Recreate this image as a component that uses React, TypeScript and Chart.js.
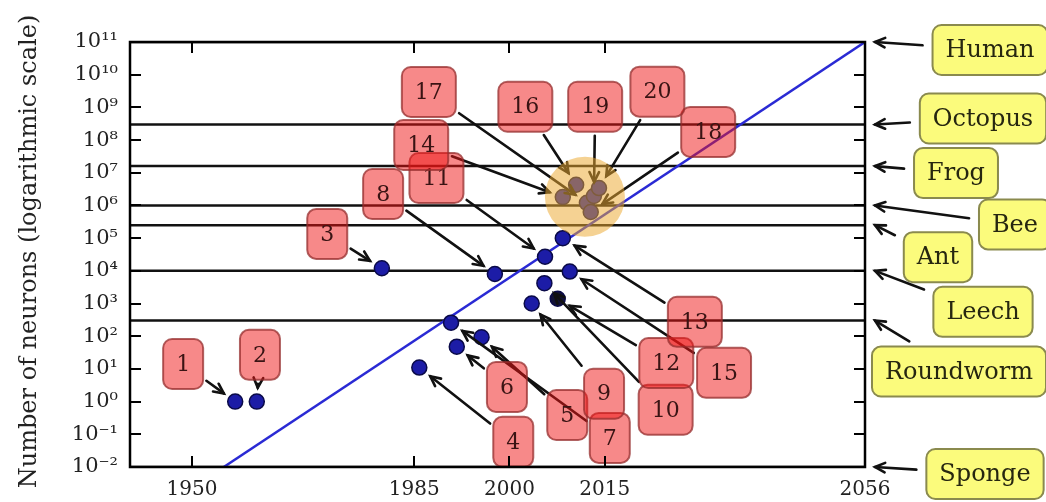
import React, { useEffect, useRef } from 'react';
import { Chart, registerables } from 'chart.js';

Chart.register(...registerables);

// ---------- data ----------
const modelLabels = ['1', '2', '3', '4', '5', '6', '7', '8', '9', '10', '11', '12', '13', '14', '15', '16', '17', '18', '19', '20'];
const modelYears = [1956.8, 1960.2, 1979.9, 1985.8, 1995.6, 1991.7, 1990.8, 1997.7, 2003.5, 2005.5, 2005.6, 2007.6, 2008.4, 2008.4, 2009.5, 2010.5, 2012.2, 2012.8, 2013.3, 2014.1];
const modelNeurons = [1, 1, 1.2e4, 11, 93, 48, 260, 8e3, 1e3, 4.2e3, 2.7e4, 1.4e3, 1e5, 1.8e6, 9.5e3, 4.3e6, 1.2e6, 6.3e5, 1.95e6, 3.4e6];
// annotation text positions (data coordinates: year, log10 of neurons)
const labelYears = [1948.6, 1960.7, 1971.3, 2000.6, 2009.1, 1999.6, 2015.8, 1980.1, 2014.9, 2024.6, 1988.5, 2024.7, 2029.2, 1986.1, 2033.8, 2002.5, 1987.3, 2031.3, 2013.5, 2023.3];
const labelExponents = [1.15, 1.43, 5.13, -1.23, -0.41, 0.45, -1.11, 6.35, 0.24, -0.25, 6.84, 1.18, 2.44, 7.85, 0.88, 9.02, 9.47, 8.25, 9.02, 9.48];
const highlightedModels = ['14', '16', '17', '18', '19', '20'];
const darkModel = '12';

const animalNames = ['Human', 'Octopus', 'Frog', 'Bee', 'Ant', 'Leech', 'Roundworm', 'Sponge'];
const animalNeurons = [1e11, 3e8, 1.6e7, 1e6, 2.5e5, 1e4, 302, 1e-2];

const trendYears = [1955, 2056];
const trendNeurons = [1e-2, 1e11];

const xTicks = [1950, 1985, 2000, 2015, 2056];
const yTickExponents = [-2, -1, 0, 1, 2, 3, 4, 5, 6, 7, 8, 9, 10, 11];
const yAxisTitle = 'Number of neurons (logarithmic scale)';

// ---------- layout / style (not data) ----------
const X_MIN = 1940.23;
const X_MAX = 2056;
const animalLabelDx = [125, 118, 91, 150, 73, 118, 94, 120];
const animalLabelDy = [8, -6, 7, 19, 32, 41, 51, 7];
const SERIF = '"DejaVu Serif", serif';

const SUP: Record<string, string> = { '-': '⁻', '0': '⁰', '1': '¹', '2': '²', '3': '³', '4': '⁴', '5': '⁵', '6': '⁶', '7': '⁷', '8': '⁸', '9': '⁹' };
const supText = (n: number) => String(n).split('').map((c) => SUP[c] || c).join('');

function roundRectPath(ctx: CanvasRenderingContext2D, x: number, y: number, w: number, h: number, r: number) {
  ctx.beginPath();
  ctx.moveTo(x + r, y);
  ctx.lineTo(x + w - r, y);
  ctx.arcTo(x + w, y, x + w, y + r, r);
  ctx.lineTo(x + w, y + h - r);
  ctx.arcTo(x + w, y + h, x + w - r, y + h, r);
  ctx.lineTo(x + r, y + h);
  ctx.arcTo(x, y + h, x, y + h - r, r);
  ctx.lineTo(x, y + r);
  ctx.arcTo(x, y, x + r, y, r);
  ctx.closePath();
}

type Box = { cx: number; cy: number; w: number; h: number; t: string };

function drawArrow(ctx: CanvasRenderingContext2D, b: Box, tx: number, ty: number, shrinkA: number, shrinkB: number) {
  const dx = tx - b.cx;
  const dy = ty - b.cy;
  const len = Math.hypot(dx, dy);
  if (len < 1) return;
  const ux = dx / len;
  const uy = dy / len;
  const tEdge = Math.min(dx !== 0 ? b.w / 2 / Math.abs(dx) : Infinity, dy !== 0 ? b.h / 2 / Math.abs(dy) : Infinity);
  const s = tEdge * len + shrinkA;
  const e = len - shrinkB;
  if (e <= s) return;
  const sx = b.cx + ux * s;
  const sy = b.cy + uy * s;
  const ex = b.cx + ux * e;
  const ey = b.cy + uy * e;
  ctx.strokeStyle = '#111';
  ctx.lineWidth = 2.6;
  ctx.lineCap = 'round';
  ctx.beginPath();
  ctx.moveTo(sx, sy);
  ctx.lineTo(ex, ey);
  ctx.stroke();
  const ang = Math.atan2(uy, ux);
  const hl = 11;
  const ha = 0.45;
  ctx.beginPath();
  ctx.moveTo(ex - hl * Math.cos(ang - ha), ey - hl * Math.sin(ang - ha));
  ctx.lineTo(ex, ey);
  ctx.lineTo(ex - hl * Math.cos(ang + ha), ey - hl * Math.sin(ang + ha));
  ctx.stroke();
}

function drawBox(ctx: CanvasRenderingContext2D, b: Box, fill: string, stroke: string, textColor: string, font: string) {
  roundRectPath(ctx, b.cx - b.w / 2, b.cy - b.h / 2, b.w, b.h, 9);
  ctx.fillStyle = fill;
  ctx.fill();
  ctx.strokeStyle = stroke;
  ctx.lineWidth = 2;
  ctx.stroke();
  ctx.fillStyle = textColor;
  ctx.font = font;
  ctx.textAlign = 'center';
  ctx.textBaseline = 'middle';
  ctx.fillText(b.t, b.cx, b.cy + 1);
}

const overlayPlugin = {
  id: 'overlay',
  afterDatasetsDraw(chart: any) {
    const { ctx, scales } = chart;
    const x = scales.x;
    const y = scales.y;
    ctx.save();
    const numFont = `22px ${SERIF}`;
    ctx.font = numFont;
    const boxes: Box[] = modelLabels.map((t, i) => ({
      cx: x.getPixelForValue(labelYears[i]),
      cy: y.getPixelForValue(Math.pow(10, labelExponents[i])),
      w: ctx.measureText(t).width + 26,
      h: 50,
      t,
    }));
    boxes.forEach((b, i) => {
      drawArrow(ctx, b, x.getPixelForValue(modelYears[i]), y.getPixelForValue(modelNeurons[i]), 4, 14);
    });
    // highlight circle around the most recent large networks
    let hx = 0;
    let hy = 0;
    highlightedModels.forEach((m) => {
      const i = modelLabels.indexOf(m);
      hx += x.getPixelForValue(modelYears[i]);
      hy += y.getPixelForValue(modelNeurons[i]);
    });
    hx /= highlightedModels.length;
    hy /= highlightedModels.length;
    ctx.beginPath();
    ctx.arc(hx, hy, 40, 0, Math.PI * 2);
    ctx.fillStyle = 'rgba(235,168,48,0.52)';
    ctx.fill();
    boxes.forEach((b) => drawBox(ctx, b, 'rgba(240,20,20,0.5)', 'rgba(150,45,45,0.75)', '#3a1414', numFont));
    ctx.restore();
  },
  afterDraw(chart: any) {
    const { ctx, chartArea, scales } = chart;
    const x = scales.x;
    const y = scales.y;
    const { left, right, top, bottom } = chartArea;
    ctx.save();
    // inward ticks
    ctx.strokeStyle = '#000';
    ctx.lineWidth = 2;
    ctx.lineCap = 'butt';
    ctx.beginPath();
    yTickExponents.forEach((e) => {
      const py = Math.round(y.getPixelForValue(Math.pow(10, e)));
      ctx.moveTo(left, py);
      ctx.lineTo(left + 11, py);
      ctx.moveTo(right, py);
      ctx.lineTo(right - 11, py);
    });
    xTicks.forEach((v) => {
      const px = Math.round(x.getPixelForValue(v));
      ctx.moveTo(px, top);
      ctx.lineTo(px, top + 11);
      ctx.moveTo(px, bottom);
      ctx.lineTo(px, bottom - 11);
    });
    ctx.stroke();
    // frame
    ctx.lineWidth = 2.5;
    ctx.strokeRect(left, top, right - left, bottom - top);
    // y axis title
    ctx.save();
    ctx.translate(30, (top + bottom) / 2 - 3);
    ctx.rotate(-Math.PI / 2);
    ctx.font = `24px ${SERIF}`;
    ctx.fillStyle = '#222';
    ctx.textAlign = 'center';
    ctx.textBaseline = 'middle';
    ctx.fillText(yAxisTitle, 0, 0);
    ctx.restore();
    // animal labels
    const aFont = `24px ${SERIF}`;
    ctx.font = aFont;
    animalNames.forEach((name, i) => {
      const py = y.getPixelForValue(animalNeurons[i]);
      const b: Box = {
        cx: right + animalLabelDx[i],
        cy: py + animalLabelDy[i],
        w: ctx.measureText(name).width + 26,
        h: 50,
        t: name,
      };
      drawArrow(ctx, b, right + 10, py, 10, 0);
      drawBox(ctx, b, '#fbfb7c', '#8a8a4e', '#262610', aFont);
      ctx.font = aFont;
    });
    ctx.restore();
  },
};

export default function App() {
  const ref = useRef<HTMLCanvasElement | null>(null);
  useEffect(() => {
    if (!ref.current) return;
    const dotColors = modelLabels.map((m) => (m === darkModel ? '#121236' : '#1c1ca6'));
    const datasets: any[] = [
      {
        type: 'scatter',
        label: 'networks',
        data: modelYears.map((yr, i) => ({ x: yr, y: modelNeurons[i] })),
        pointRadius: 7.5,
        pointBackgroundColor: dotColors,
        pointBorderColor: '#0a0a48',
        pointBorderWidth: 1.5,
        showLine: false,
      },
      {
        type: 'line',
        label: 'trend',
        data: trendYears.map((yr, i) => ({ x: yr, y: trendNeurons[i] })),
        borderColor: '#2a2ad4',
        borderWidth: 2.5,
        pointRadius: 0,
      },
      ...animalNames.map((name, i) => ({
        type: 'line',
        label: name,
        data: [
          { x: X_MIN, y: animalNeurons[i] },
          { x: X_MAX, y: animalNeurons[i] },
        ],
        borderColor: '#111',
        borderWidth: 2.5,
        pointRadius: 0,
      })),
    ];
    const chart = new Chart(ref.current, {
      type: 'scatter',
      data: { datasets },
      options: {
        responsive: false,
        animation: false,
        devicePixelRatio: 1,
        layout: { padding: { top: 42, right: 181, left: 0, bottom: 0 } },
        plugins: { legend: { display: false }, tooltip: { enabled: false } },
        scales: {
          x: {
            type: 'linear',
            min: X_MIN,
            max: X_MAX,
            grid: { display: false, drawTicks: false },
            border: { display: false },
            ticks: {
              autoSkip: false,
              padding: 11,
              color: '#222',
              font: { family: SERIF, size: 20 },
              callback: (v: any) => String(v),
            },
            afterBuildTicks: (s: any) => {
              s.ticks = xTicks.map((v) => ({ value: v }));
            },
            afterFit: (s: any) => {
              s.height = 35;
            },
          },
          y: {
            type: 'logarithmic',
            min: 1e-2,
            max: 1e11,
            grid: { display: false, drawTicks: false },
            border: { display: false },
            ticks: {
              autoSkip: false,
              padding: 12,
              color: '#222',
              font: { family: SERIF, size: 21 },
              callback: (v: any) => '10' + supText(Math.round(Math.log10(Number(v)))),
            },
            afterBuildTicks: (s: any) => {
              s.ticks = yTickExponents.map((e) => ({ value: Math.pow(10, e) }));
            },
            afterFit: (s: any) => {
              s.width = 130;
            },
          },
        },
      },
      plugins: [overlayPlugin],
    });
    return () => chart.destroy();
  }, []);
  return (
    <div style={{ position: 'fixed', left: 0, top: 0, width: 1046, height: 502, background: '#fff' }}>
      <canvas ref={ref} width={1046} height={502} style={{ width: 1046, height: 502, display: 'block' }} />
    </div>
  );
}
